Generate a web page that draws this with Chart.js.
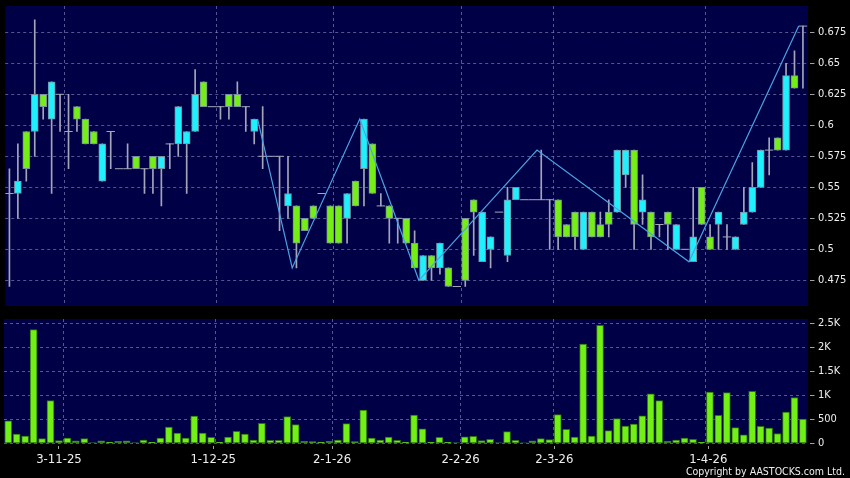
<!DOCTYPE html>
<html>
<head>
<meta charset="utf-8">
<script src="https://cdn.jsdelivr.net/npm/chart.js@4.4.1/dist/chart.umd.min.js"></script>
<style>
html,body{margin:0;padding:0;background:#000;}
#wrap{position:relative;width:850px;height:478px;overflow:hidden;background:#000;}
#cp{position:absolute;left:0;top:0;width:850px;height:312px;}
#cv{position:absolute;left:0;top:312px;width:850px;height:166px;}
#copy{position:absolute;right:5px;top:465px;font-family:"DejaVu Sans Condensed","DejaVu Sans",sans-serif;font-size:10.5px;line-height:12px;color:#eeeeee;white-space:nowrap;}
</style>
</head>
<body>
<div id="wrap">
<canvas id="cp" width="850" height="312"></canvas>
<canvas id="cv" width="850" height="166"></canvas>
<div id="copy">Copyright by AASTOCKS.com Ltd.</div>
</div>
<script>
// ---- data (one entry per trading session, oldest first) ----
const openP = [0.545,0.545,0.595,0.595,0.625,0.605,0.625,0.595,0.615,0.605,
  0.595,0.555,0.595,0.565,0.565,0.575,0.565,0.575,0.565,0.585,
  0.585,0.585,0.595,0.635,0.615,0.615,0.625,0.625,0.615,0.595,
  0.575,0.575,0.575,0.535,0.535,0.525,0.535,0.545,0.535,0.535,
  0.525,0.555,0.565,0.585,0.535,0.535,0.525,0.525,0.505,0.475,
  0.495,0.485,0.485,0.47,0.525,0.54,0.49,0.5,0.53,0.495,
  0.54,0.54,0.54,0.54,0.54,0.54,0.52,0.53,0.5,0.53,
  0.52,0.53,0.53,0.56,0.58,0.53,0.53,0.52,0.53,0.5,
  0.5,0.49,0.55,0.51,0.52,0.51,0.5,0.52,0.53,0.55,
  0.58,0.59,0.58,0.64,0.68];
const highP = [0.565,0.585,0.595,0.685,0.625,0.635,0.625,0.625,0.615,0.605,
  0.595,0.585,0.595,0.565,0.585,0.575,0.565,0.575,0.575,0.585,
  0.615,0.595,0.645,0.635,0.615,0.615,0.625,0.635,0.615,0.605,
  0.615,0.575,0.575,0.575,0.535,0.525,0.535,0.545,0.535,0.535,
  0.545,0.555,0.605,0.585,0.545,0.535,0.525,0.525,0.515,0.495,
  0.495,0.505,0.485,0.47,0.525,0.54,0.53,0.51,0.53,0.55,
  0.55,0.54,0.54,0.58,0.54,0.54,0.52,0.53,0.53,0.53,
  0.53,0.54,0.58,0.58,0.58,0.56,0.53,0.52,0.53,0.52,
  0.5,0.55,0.55,0.52,0.53,0.52,0.51,0.55,0.57,0.58,
  0.59,0.59,0.65,0.66,0.68];
const lowP = [0.47,0.525,0.555,0.575,0.605,0.545,0.595,0.565,0.595,0.585,
  0.585,0.555,0.565,0.565,0.565,0.565,0.545,0.545,0.535,0.565,
  0.575,0.545,0.595,0.615,0.615,0.605,0.605,0.615,0.595,0.585,
  0.565,0.575,0.515,0.525,0.485,0.515,0.525,0.545,0.505,0.505,
  0.505,0.535,0.535,0.545,0.535,0.505,0.505,0.505,0.485,0.475,
  0.475,0.48,0.47,0.47,0.47,0.495,0.49,0.485,0.53,0.49,
  0.54,0.54,0.54,0.54,0.5,0.5,0.51,0.5,0.5,0.51,
  0.51,0.51,0.53,0.55,0.5,0.52,0.5,0.51,0.5,0.5,
  0.5,0.49,0.52,0.5,0.5,0.5,0.5,0.52,0.53,0.55,
  0.56,0.58,0.58,0.63,0.63];
const closeP = [0.545,0.555,0.565,0.625,0.615,0.635,0.625,0.595,0.605,0.585,
  0.585,0.585,0.595,0.565,0.565,0.565,0.565,0.565,0.575,0.585,
  0.615,0.595,0.625,0.615,0.615,0.615,0.615,0.615,0.615,0.605,
  0.575,0.575,0.575,0.545,0.505,0.515,0.525,0.545,0.505,0.505,
  0.545,0.535,0.605,0.545,0.535,0.525,0.525,0.505,0.485,0.495,
  0.485,0.505,0.47,0.47,0.475,0.53,0.53,0.51,0.53,0.54,
  0.55,0.54,0.54,0.54,0.54,0.51,0.51,0.51,0.53,0.51,
  0.51,0.52,0.58,0.58,0.52,0.54,0.51,0.52,0.52,0.52,
  0.5,0.51,0.52,0.5,0.53,0.51,0.51,0.53,0.55,0.58,
  0.58,0.58,0.64,0.63,0.68];
const volume = [470,194,153,2368,97,889,56,111,49,97,
  8,49,20,42,49,7,69,20,111,340,
  215,111,569,215,125,28,132,250,194,69,
  417,62,62,556,389,42,38,28,42,65,
  410,38,694,111,65,132,62,28,590,303,
  28,125,28,5,136,146,56,83,5,243,
  62,3,52,97,76,597,292,132,2069,153,
  2460,264,514,361,403,572,1030,889,42,69,
  111,83,18,1069,583,1056,326,178,1083,354,
  319,205,653,955,507];
// zigzag turning points: session position and price
const zigX = [29.4,33.5,41.5,48.5,62.5,80.5,93.5];
const zigY = [0.605,0.485,0.605,0.475,0.58,0.49,0.68];
// axes
const xLabels = ['3-11-25','1-12-25','2-1-26','2-2-26','2-3-26','1-4-26'];
const xLabelAt = [6,24.25,38.3,53.5,64.6,82.8];
const xGridAt = [6.5,24.5,38.4,53.5,64.45,82.5];
const priceTicks = [0.475,0.5,0.525,0.55,0.575,0.6,0.625,0.65,0.675];
const volTicks = [0,500,1000,1500,2000,2500];
const volLabels = ['0','500','1K','1.5K','2K','2.5K'];

// ---- style ----
const FONT = '"DejaVu Sans Condensed", "DejaVu Sans", sans-serif';
const NAVY = '#000046';
const GRID = 'rgba(130,130,190,0.65)';
const TICKC = '#a0a0a8';
const LABELC = '#eeeeee';
const UPC = '#1ff0fd';
const DOWNC = '#74ee14';
const BODYB = '#7890a0';
const WICKC = '#a4a6b8';
const ZIGC = '#4aa2e2';
const VOLC = '#72f016';
const VOLB = '#2e7012';
const X_MIN = -0.5, X_MAX = 94.6;

const plotBg = {
  id: 'plotBg',
  beforeDraw(chart) {
    const {ctx, chartArea: a} = chart;
    ctx.save();
    ctx.fillStyle = NAVY;
    ctx.fillRect(a.left, a.top, a.right - a.left, a.bottom - a.top);
    ctx.restore();
  }
};

const bodies = [], bodyColors = [], wicks = [], dojis = [];
closeP.forEach((c, i) => {
  const o = openP[i];
  if (highP[i] > lowP[i]) wicks.push({x: i, y: [lowP[i], highP[i]]});
  if (o === c) { dojis.push({x: i, y: o}); }
  else {
    bodies.push({x: i, y: [Math.min(o, c), Math.max(o, c)]});
    bodyColors.push(c > o ? UPC : DOWNC);
  }
});
const zig = zigX.map((x, i) => ({x, y: zigY[i]}));
const vols = volume.map((v, i) => ({x: i, y: v}));

function noPad(s) { s.paddingTop = 0; s.paddingBottom = 0; s.paddingLeft = 0; s.paddingRight = 0; }

function gridAxis(pos) {
  return {
    type: 'linear', min: X_MIN, max: X_MAX, position: pos, offset: false,
    afterBuildTicks: s => { s.ticks = xGridAt.map(v => ({value: v})); },
    afterFit: s => { s.height = 0; noPad(s); },
    ticks: {display: false},
    grid: {color: GRID, lineWidth: 1, drawTicks: false, offset: false},
    border: {display: false, dash: [3, 3]}
  };
}
function rightAxis(min, max, tickVals, fmt) {
  return {
    type: 'linear', position: 'right', min, max,
    afterBuildTicks: s => { s.ticks = tickVals.map(v => ({value: v})); },
    afterFit: s => { s.width = 42; noPad(s); },
    ticks: {padding: 3, color: LABELC, font: {family: FONT, size: 11, lineHeight: 1}, callback: fmt},
    grid: {color: GRID, lineWidth: 1, tickColor: TICKC, tickLength: 7, tickWidth: 1, tickBorderDash: [0, 2, 4.5, 30]},
    border: {display: false, dash: [3, 3]}
  };
}

const common = {
  responsive: false, animation: false, devicePixelRatio: 1,
  plugins: {legend: {display: false}, tooltip: {enabled: false}}
};

new Chart(document.getElementById('cp'), {
  type: 'bar',
  data: {datasets: [
    {type: 'line', data: zig, borderColor: ZIGC, borderWidth: 1.2, pointRadius: 0, fill: false, order: 0, xAxisID: 'x', yAxisID: 'y'},
    {type: 'line', data: dojis, showLine: false, pointStyle: 'line', pointRadius: 4.2, pointBorderColor: WICKC, pointBorderWidth: 1, order: 1, xAxisID: 'x', yAxisID: 'y'},
    {type: 'bar', data: bodies, backgroundColor: bodyColors, borderColor: BODYB, borderWidth: 1, borderSkipped: false, barThickness: 7, grouped: false, order: 2, xAxisID: 'x', yAxisID: 'y'},
    {type: 'bar', data: wicks, backgroundColor: WICKC, borderWidth: 0, barThickness: 1, grouped: false, order: 3, xAxisID: 'x', yAxisID: 'y'}
  ]},
  options: Object.assign({}, common, {
    layout: {padding: {left: 4, top: 6, right: 0, bottom: 6}},
    scales: {
      x: gridAxis('bottom'),
      y: rightAxis(0.4543, 0.6962, priceTicks, v => String(+Number(v).toFixed(3)))
    }
  }),
  plugins: [plotBg]
});

new Chart(document.getElementById('cv'), {
  type: 'bar',
  data: {datasets: [
    {data: vols, backgroundColor: VOLC, borderColor: VOLB, borderWidth: 1, borderSkipped: false, barThickness: 7, grouped: false, xAxisID: 'x', yAxisID: 'y'}
  ]},
  options: Object.assign({}, common, {
    layout: {padding: {left: 4, top: 7, right: 0, bottom: 14.7}},
    scales: {
      xg: gridAxis('top'),
      x: {
        type: 'linear', min: X_MIN, max: X_MAX, position: 'bottom', offset: false,
        afterBuildTicks: s => { s.ticks = xLabelAt.map(v => ({value: v})); },
        afterFit: s => { s.height = 20; noPad(s); },
        ticks: {autoSkip: false, maxRotation: 0, padding: 3, color: LABELC, font: {family: FONT, size: 13}, callback: (v, i) => xLabels[i]},
        grid: {drawOnChartArea: false, drawTicks: true, offset: false, tickLength: 6, tickColor: TICKC, tickWidth: 1, tickBorderDash: [0, 3, 3, 30]},
        border: {display: false}
      },
      y: rightAxis(0, 2590, volTicks, (v, i) => volLabels[i])
    }
  }),
  plugins: [plotBg]
});
</script>
</body>
</html>
